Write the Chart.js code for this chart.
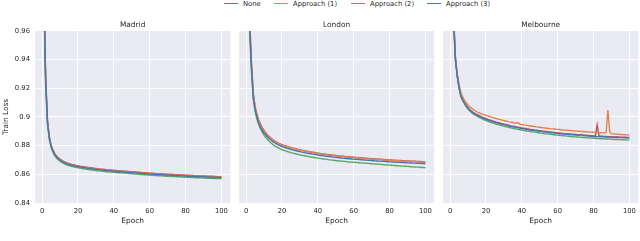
<!DOCTYPE html>
<html><head><meta charset="utf-8">
<script src="https://cdn.jsdelivr.net/npm/chart.js@4"></script>
<style>
html,body{margin:0;padding:0;background:#fff}
body{width:640px;height:241px;position:relative;overflow:hidden;font-family:"DejaVu Sans",sans-serif}
canvas{position:absolute;top:0}
.li{position:absolute;top:0;height:9px;line-height:9px;font-size:6.8px;color:#262626;white-space:nowrap}
.li i{display:inline-block;width:14px;height:0;border-top:1.5px solid;vertical-align:middle;margin-right:5px;position:relative;top:-1px}
</style></head>
<body>
<div id="legend"></div>
<canvas id="c0" width="232" height="241" style="left:0px;width:232px;height:241px"></canvas>
<canvas id="c1" width="197" height="241" style="left:239px;width:197px;height:241px"></canvas>
<canvas id="c2" width="197" height="241" style="left:443px;width:197px;height:241px"></canvas>
<script>
const cities = ["Madrid", "London", "Melbourne"];
const seriesNames = ["None", "Approach (1)", "Approach (2)", "Approach (3)"];
const seriesColors = ["#c44e52", "#dd8452", "#55a868", "#4c72b0"];
const xTicks = [0, 20, 40, 60, 80, 100];
const yTicks = [0.84, 0.86, 0.88, 0.90, 0.92, 0.94, 0.96];
const yTickLabels = ["0.84", "0.86", "0.88", "0.9", "0.92", "0.94", "0.96"];
const epochs = [1,2,3,4,5,6,7,8,9,10,11,12,13,14,15,16,17,18,19,20,21,22,23,24,25,26,27,28,29,30,31,32,33,34,35,36,37,38,39,40,41,42,43,44,45,46,47,48,49,50,51,52,53,54,55,56,57,58,59,60,61,62,63,64,65,66,67,68,69,70,71,72,73,74,75,76,77,78,79,80,81,82,83,84,85,86,87,88,89,90,91,92,93,94,95,96,97,98,99,100];

// Madrid
const madridNone = [0.990,0.928,0.898,0.8865,0.8805,0.8770,0.8746,0.8729,0.8716,0.8706,0.8697,0.8690,0.8684,0.8679,0.8675,0.8671,0.8668,0.8665,0.8662,0.8660,0.8657,0.8655,0.8653,0.8651,0.8649,0.8647,0.8646,0.8644,0.8642,0.8641,0.8639,0.8638,0.8636,0.8635,0.8634,0.8632,0.8631,0.8630,0.8629,0.8628,0.8627,0.8626,0.8625,0.8624,0.8623,0.8622,0.8621,0.8620,0.8619,0.8618,0.8617,0.8616,0.8615,0.8614,0.8613,0.8612,0.8611,0.8610,0.8609,0.8608,0.8607,0.8607,0.8606,0.8605,0.8604,0.8604,0.8603,0.8602,0.8601,0.8601,0.8600,0.8599,0.8599,0.8598,0.8597,0.8597,0.8596,0.8595,0.8595,0.8594,0.8593,0.8593,0.8592,0.8592,0.8591,0.8590,0.8590,0.8589,0.8589,0.8588,0.8588,0.8587,0.8587,0.8586,0.8586,0.8585,0.8585,0.8584,0.8584,0.8583];
const madridA1 = [0.985,0.926,0.897,0.8860,0.8800,0.8766,0.8742,0.8725,0.8712,0.8702,0.8694,0.8687,0.8681,0.8676,0.8672,0.8668,0.8665,0.8662,0.8659,0.8657,0.8654,0.8652,0.8650,0.8648,0.8646,0.8644,0.8643,0.8641,0.8639,0.8638,0.8636,0.8635,0.8633,0.8632,0.8631,0.8629,0.8628,0.8627,0.8626,0.8625,0.8624,0.8623,0.8622,0.8621,0.8620,0.8619,0.8618,0.8617,0.8616,0.8615,0.8614,0.8613,0.8612,0.8611,0.8610,0.8609,0.8608,0.8607,0.8606,0.8605,0.8604,0.8604,0.8603,0.8602,0.8601,0.8601,0.8600,0.8599,0.8598,0.8598,0.8597,0.8596,0.8596,0.8595,0.8594,0.8594,0.8593,0.8592,0.8592,0.8591,0.8590,0.8590,0.8589,0.8589,0.8588,0.8587,0.8587,0.8586,0.8586,0.8585,0.8585,0.8584,0.8584,0.8583,0.8583,0.8582,0.8582,0.8581,0.8581,0.8580];
const madridA2 = [0.982,0.922,0.895,0.8845,0.8788,0.8755,0.8731,0.8714,0.8701,0.8691,0.8683,0.8676,0.8670,0.8665,0.8661,0.8657,0.8654,0.8651,0.8648,0.8646,0.8643,0.8641,0.8639,0.8637,0.8635,0.8633,0.8632,0.8630,0.8628,0.8627,0.8625,0.8624,0.8622,0.8621,0.8620,0.8618,0.8617,0.8616,0.8615,0.8614,0.8613,0.8612,0.8611,0.8610,0.8609,0.8608,0.8607,0.8606,0.8605,0.8604,0.8603,0.8602,0.8601,0.8600,0.8599,0.8598,0.8597,0.8596,0.8595,0.8594,0.8593,0.8593,0.8592,0.8591,0.8590,0.8590,0.8589,0.8588,0.8587,0.8587,0.8586,0.8585,0.8585,0.8584,0.8583,0.8583,0.8582,0.8581,0.8581,0.8580,0.8579,0.8579,0.8578,0.8578,0.8577,0.8576,0.8576,0.8575,0.8575,0.8574,0.8574,0.8573,0.8573,0.8572,0.8572,0.8571,0.8571,0.8570,0.8570,0.8569];
const madridA3 = [0.986,0.925,0.8965,0.8855,0.8797,0.8763,0.8739,0.8722,0.8709,0.8699,0.8691,0.8684,0.8678,0.8673,0.8669,0.8665,0.8662,0.8659,0.8656,0.8654,0.8651,0.8649,0.8647,0.8645,0.8643,0.8641,0.8640,0.8638,0.8636,0.8635,0.8633,0.8632,0.8630,0.8629,0.8628,0.8626,0.8625,0.8624,0.8623,0.8622,0.8621,0.8620,0.8619,0.8618,0.8617,0.8616,0.8615,0.8614,0.8613,0.8612,0.8611,0.8610,0.8609,0.8608,0.8607,0.8606,0.8605,0.8604,0.8603,0.8602,0.8601,0.8601,0.8600,0.8599,0.8598,0.8598,0.8597,0.8596,0.8595,0.8595,0.8594,0.8593,0.8593,0.8592,0.8591,0.8591,0.8590,0.8589,0.8589,0.8588,0.8587,0.8587,0.8586,0.8586,0.8585,0.8584,0.8584,0.8583,0.8583,0.8582,0.8582,0.8581,0.8581,0.8580,0.8580,0.8579,0.8579,0.8578,0.8578,0.8577];

// London
const londonNone = [1.030,0.968,0.938,0.9165,0.9075,0.9020,0.8980,0.8950,0.8926,0.8906,0.8890,0.8875,0.8862,0.8851,0.8841,0.8832,0.8825,0.8818,0.8812,0.8806,0.8802,0.8798,0.8794,0.8790,0.8786,0.8783,0.8780,0.8777,0.8774,0.8771,0.8768,0.8766,0.8763,0.8761,0.8758,0.8756,0.8754,0.8752,0.8750,0.8748,0.8746,0.8744,0.8742,0.8741,0.8739,0.8737,0.8736,0.8734,0.8733,0.8731,0.8730,0.8728,0.8727,0.8726,0.8725,0.8723,0.8722,0.8721,0.8720,0.8719,0.8718,0.8717,0.8716,0.8715,0.8714,0.8713,0.8712,0.8711,0.8710,0.8709,0.8708,0.8707,0.8706,0.8705,0.8705,0.8704,0.8703,0.8702,0.8701,0.8700,0.8700,0.8699,0.8698,0.8697,0.8697,0.8696,0.8695,0.8695,0.8694,0.8693,0.8693,0.8692,0.8691,0.8691,0.8690,0.8690,0.8689,0.8688,0.8688,0.8687];
const londonA1 = [1.025,0.966,0.937,0.9160,0.9070,0.9016,0.8976,0.8946,0.8922,0.8903,0.8887,0.8872,0.8860,0.8849,0.8839,0.8830,0.8823,0.8816,0.8810,0.8804,0.8800,0.8796,0.8792,0.8788,0.8784,0.8781,0.8778,0.8775,0.8772,0.8769,0.8766,0.8764,0.8761,0.8759,0.8756,0.8754,0.8752,0.8750,0.8748,0.8746,0.8744,0.8742,0.8740,0.8739,0.8737,0.8735,0.8734,0.8732,0.8731,0.8729,0.8728,0.8726,0.8725,0.8724,0.8723,0.8721,0.8720,0.8719,0.8718,0.8717,0.8716,0.8715,0.8714,0.8713,0.8712,0.8711,0.8710,0.8709,0.8708,0.8707,0.8706,0.8705,0.8704,0.8703,0.8703,0.8702,0.8701,0.8700,0.8699,0.8698,0.8698,0.8697,0.8696,0.8695,0.8695,0.8694,0.8693,0.8693,0.8692,0.8691,0.8691,0.8690,0.8689,0.8689,0.8688,0.8688,0.8687,0.8686,0.8686,0.8685];
const londonA2 = [1.015,0.960,0.932,0.9125,0.9040,0.8987,0.8948,0.8918,0.8894,0.8873,0.8857,0.8842,0.8829,0.8818,0.8807,0.8798,0.8791,0.8784,0.8777,0.8771,0.8767,0.8763,0.8759,0.8755,0.8751,0.8748,0.8745,0.8742,0.8739,0.8736,0.8733,0.8731,0.8728,0.8726,0.8723,0.8721,0.8719,0.8717,0.8715,0.8713,0.8711,0.8709,0.8707,0.8706,0.8704,0.8702,0.8701,0.8699,0.8698,0.8696,0.8695,0.8693,0.8692,0.8691,0.8690,0.8688,0.8687,0.8686,0.8685,0.8684,0.8683,0.8682,0.8681,0.8680,0.8679,0.8678,0.8677,0.8676,0.8675,0.8674,0.8673,0.8672,0.8671,0.8670,0.8669,0.8668,0.8667,0.8666,0.8665,0.8664,0.8663,0.8662,0.8661,0.8660,0.8659,0.8658,0.8657,0.8657,0.8656,0.8655,0.8654,0.8653,0.8652,0.8651,0.8650,0.8650,0.8649,0.8648,0.8647,0.8646];
const londonA3 = [1.020,0.962,0.934,0.9140,0.9052,0.8999,0.8960,0.8931,0.8908,0.8889,0.8874,0.8860,0.8848,0.8838,0.8828,0.8820,0.8812,0.8806,0.8800,0.8794,0.8789,0.8785,0.8781,0.8777,0.8773,0.8770,0.8767,0.8764,0.8761,0.8758,0.8755,0.8753,0.8750,0.8748,0.8745,0.8743,0.8741,0.8739,0.8737,0.8735,0.8733,0.8731,0.8729,0.8728,0.8726,0.8724,0.8723,0.8721,0.8720,0.8718,0.8717,0.8715,0.8714,0.8713,0.8712,0.8710,0.8709,0.8708,0.8707,0.8706,0.8705,0.8704,0.8703,0.8702,0.8701,0.8700,0.8699,0.8698,0.8697,0.8696,0.8695,0.8694,0.8693,0.8692,0.8692,0.8691,0.8690,0.8689,0.8688,0.8687,0.8687,0.8686,0.8685,0.8684,0.8684,0.8683,0.8682,0.8682,0.8681,0.8680,0.8680,0.8679,0.8678,0.8678,0.8677,0.8677,0.8676,0.8675,0.8675,0.8674];

// Melbourne
const melbourneNone = [1.060,0.968,0.940,0.929,0.921,0.9150,0.9122,0.9100,0.9080,0.9064,0.9050,0.9041,0.9031,0.9023,0.9016,0.9010,0.9004,0.8998,0.8993,0.8988,0.8983,0.8979,0.8975,0.8971,0.8967,0.8963,0.8960,0.8956,0.8953,0.8950,0.8947,0.8944,0.8941,0.8938,0.8936,0.8933,0.8931,0.8928,0.8926,0.8923,0.8921,0.8919,0.8917,0.8915,0.8913,0.8911,0.8909,0.8908,0.8906,0.8904,0.8903,0.8901,0.8899,0.8898,0.8896,0.8895,0.8893,0.8892,0.8891,0.8889,0.8888,0.8887,0.8885,0.8884,0.8883,0.8882,0.8881,0.8880,0.8879,0.8878,0.8877,0.8876,0.8875,0.8874,0.8873,0.8872,0.8871,0.8870,0.8869,0.8868,0.8868,0.8944,0.8870,0.8866,0.8865,0.8864,0.8864,0.8863,0.8862,0.8862,0.8861,0.8861,0.8860,0.8860,0.8859,0.8859,0.8858,0.8858,0.8857,0.8857];
const melbourneA1 = [1.055,0.970,0.942,0.930,0.9225,0.9170,0.9140,0.9118,0.9099,0.9083,0.9070,0.9060,0.9051,0.9043,0.9036,0.9030,0.9024,0.9019,0.9015,0.9011,0.9007,0.9003,0.8999,0.8995,0.8991,0.8988,0.8984,0.8981,0.8978,0.8975,0.8972,0.8969,0.8966,0.8964,0.8961,0.8958,0.8958,0.8959,0.8950,0.8947,0.8945,0.8943,0.8941,0.8939,0.8937,0.8935,0.8933,0.8931,0.8929,0.8928,0.8926,0.8924,0.8923,0.8921,0.8920,0.8918,0.8917,0.8916,0.8914,0.8913,0.8912,0.8911,0.8909,0.8908,0.8907,0.8906,0.8905,0.8904,0.8903,0.8902,0.8901,0.8900,0.8899,0.8898,0.8897,0.8896,0.8895,0.8894,0.8893,0.8893,0.8892,0.8891,0.8890,0.8890,0.8889,0.8889,0.8893,0.9048,0.8895,0.8884,0.8882,0.8881,0.8880,0.8879,0.8878,0.8877,0.8876,0.8875,0.8875,0.8874];
const melbourneA2 = [1.045,0.964,0.939,0.9280,0.9200,0.9142,0.9115,0.9092,0.9072,0.9055,0.9041,0.9030,0.9021,0.9012,0.9005,0.8998,0.8992,0.8986,0.8980,0.8975,0.8970,0.8966,0.8961,0.8957,0.8953,0.8949,0.8946,0.8942,0.8939,0.8935,0.8932,0.8929,0.8926,0.8924,0.8921,0.8918,0.8916,0.8913,0.8911,0.8909,0.8906,0.8904,0.8902,0.8900,0.8898,0.8896,0.8894,0.8892,0.8890,0.8888,0.8887,0.8885,0.8883,0.8882,0.8880,0.8879,0.8877,0.8876,0.8874,0.8873,0.8872,0.8870,0.8869,0.8868,0.8866,0.8865,0.8864,0.8863,0.8862,0.8861,0.8860,0.8859,0.8858,0.8857,0.8856,0.8855,0.8854,0.8853,0.8852,0.8851,0.8851,0.8850,0.8849,0.8848,0.8848,0.8847,0.8846,0.8846,0.8845,0.8844,0.8844,0.8843,0.8843,0.8842,0.8842,0.8841,0.8841,0.8840,0.8840,0.8839];
const melbourneA3 = [1.050,0.966,0.940,0.9285,0.9205,0.9145,0.9118,0.9096,0.9076,0.9060,0.9046,0.9036,0.9027,0.9019,0.9012,0.9006,0.9000,0.8994,0.8989,0.8984,0.8979,0.8975,0.8971,0.8967,0.8963,0.8959,0.8956,0.8952,0.8949,0.8946,0.8943,0.8940,0.8937,0.8934,0.8932,0.8929,0.8927,0.8924,0.8922,0.8919,0.8917,0.8915,0.8913,0.8911,0.8909,0.8907,0.8905,0.8904,0.8902,0.8900,0.8899,0.8897,0.8895,0.8894,0.8892,0.8891,0.8889,0.8888,0.8887,0.8885,0.8884,0.8883,0.8881,0.8880,0.8879,0.8878,0.8877,0.8876,0.8875,0.8874,0.8873,0.8872,0.8878,0.8871,0.8869,0.8868,0.8867,0.8866,0.8865,0.8864,0.8864,0.8863,0.8862,0.8862,0.8861,0.8861,0.8860,0.8860,0.8859,0.8859,0.8858,0.8858,0.8857,0.8857,0.8856,0.8856,0.8855,0.8855,0.8854,0.8854];

const cityData = [
  [madridNone, madridA1, madridA2, madridA3],
  [londonNone, londonA1, londonA2, londonA3],
  [melbourneNone, melbourneA1, melbourneA2, melbourneA3]
];

// HTML legend
const legendLefts = [224, 274, 351, 427];
const legendEl = document.getElementById('legend');
seriesNames.forEach((n, i) => {
  const d = document.createElement('div');
  d.className = 'li';
  d.style.left = legendLefts[i] + 'px';
  const ln = document.createElement('i');
  ln.style.borderTopColor = seriesColors[i];
  d.appendChild(ln);
  d.appendChild(document.createTextNode(n));
  legendEl.appendChild(d);
});

Chart.defaults.font.family = '"DejaVu Sans", sans-serif';
Chart.defaults.color = '#262626';

const bgPlugin = {
  id: 'bg',
  beforeDraw(chart) {
    const a = chart.chartArea, ctx = chart.ctx;
    ctx.save();
    ctx.fillStyle = '#eaeaf2';
    ctx.fillRect(a.left, a.top, a.right - a.left, a.bottom - a.top);
    ctx.restore();
  }
};

cities.forEach((city, ci) => {
  const showY = ci === 0;
  const datasets = seriesNames.map((name, si) => ({
    label: name,
    data: epochs.map((e, k) => ({x: e, y: cityData[ci][si][k]})),
    borderColor: seriesColors[si],
    backgroundColor: seriesColors[si],
    borderWidth: 1.4,
    pointRadius: 0,
    tension: 0,
    fill: false,
    clip: 0,
    order: 4 - si
  }));
  new Chart(document.getElementById('c' + ci), {
    type: 'line',
    data: {datasets},
    plugins: [bgPlugin],
    options: {
      responsive: false,
      animation: false,
      devicePixelRatio: 1,
      layout: {padding: 0},
      plugins: {
        legend: {display: false},
        tooltip: {enabled: false},
        title: {
          display: true, text: city, fullSize: false,
          font: {size: 7.4, weight: 'normal'}, color: '#262626',
          padding: {top: 21, bottom: 1}
        }
      },
      scales: {
        x: {
          type: 'linear', min: -3.95, max: 104.95,
          afterBuildTicks: s => { s.ticks = xTicks.map(v => ({value: v})); },
          ticks: {font: {size: 6.8}, color: '#262626', padding: 4, maxRotation: 0, autoSkip: false,
                  callback: v => String(v)},
          grid: {color: '#ffffff', lineWidth: 1, drawTicks: false},
          border: {display: false},
          title: {display: true, text: 'Epoch', font: {size: 7.4}, color: '#262626', padding: {top: 0, bottom: 15}},
          afterFit: s => { s.height = 38; }
        },
        y: {
          type: 'linear', min: 0.84, max: 0.96,
          afterBuildTicks: s => { s.ticks = yTicks.map(v => ({value: v})); },
          ticks: {display: showY, font: {size: 6.8}, color: '#262626', padding: 5,
                  callback: (v, i) => yTickLabels[i]},
          grid: {color: '#ffffff', lineWidth: 1, drawTicks: false},
          border: {display: false},
          title: {display: showY, text: 'Train Loss', font: {size: 7.4}, color: '#262626', padding: {top: 2, bottom: 0}},
          afterFit: s => { s.width = showY ? 35 : 0; }
        }
      }
    }
  });
});
</script>
</body></html>
